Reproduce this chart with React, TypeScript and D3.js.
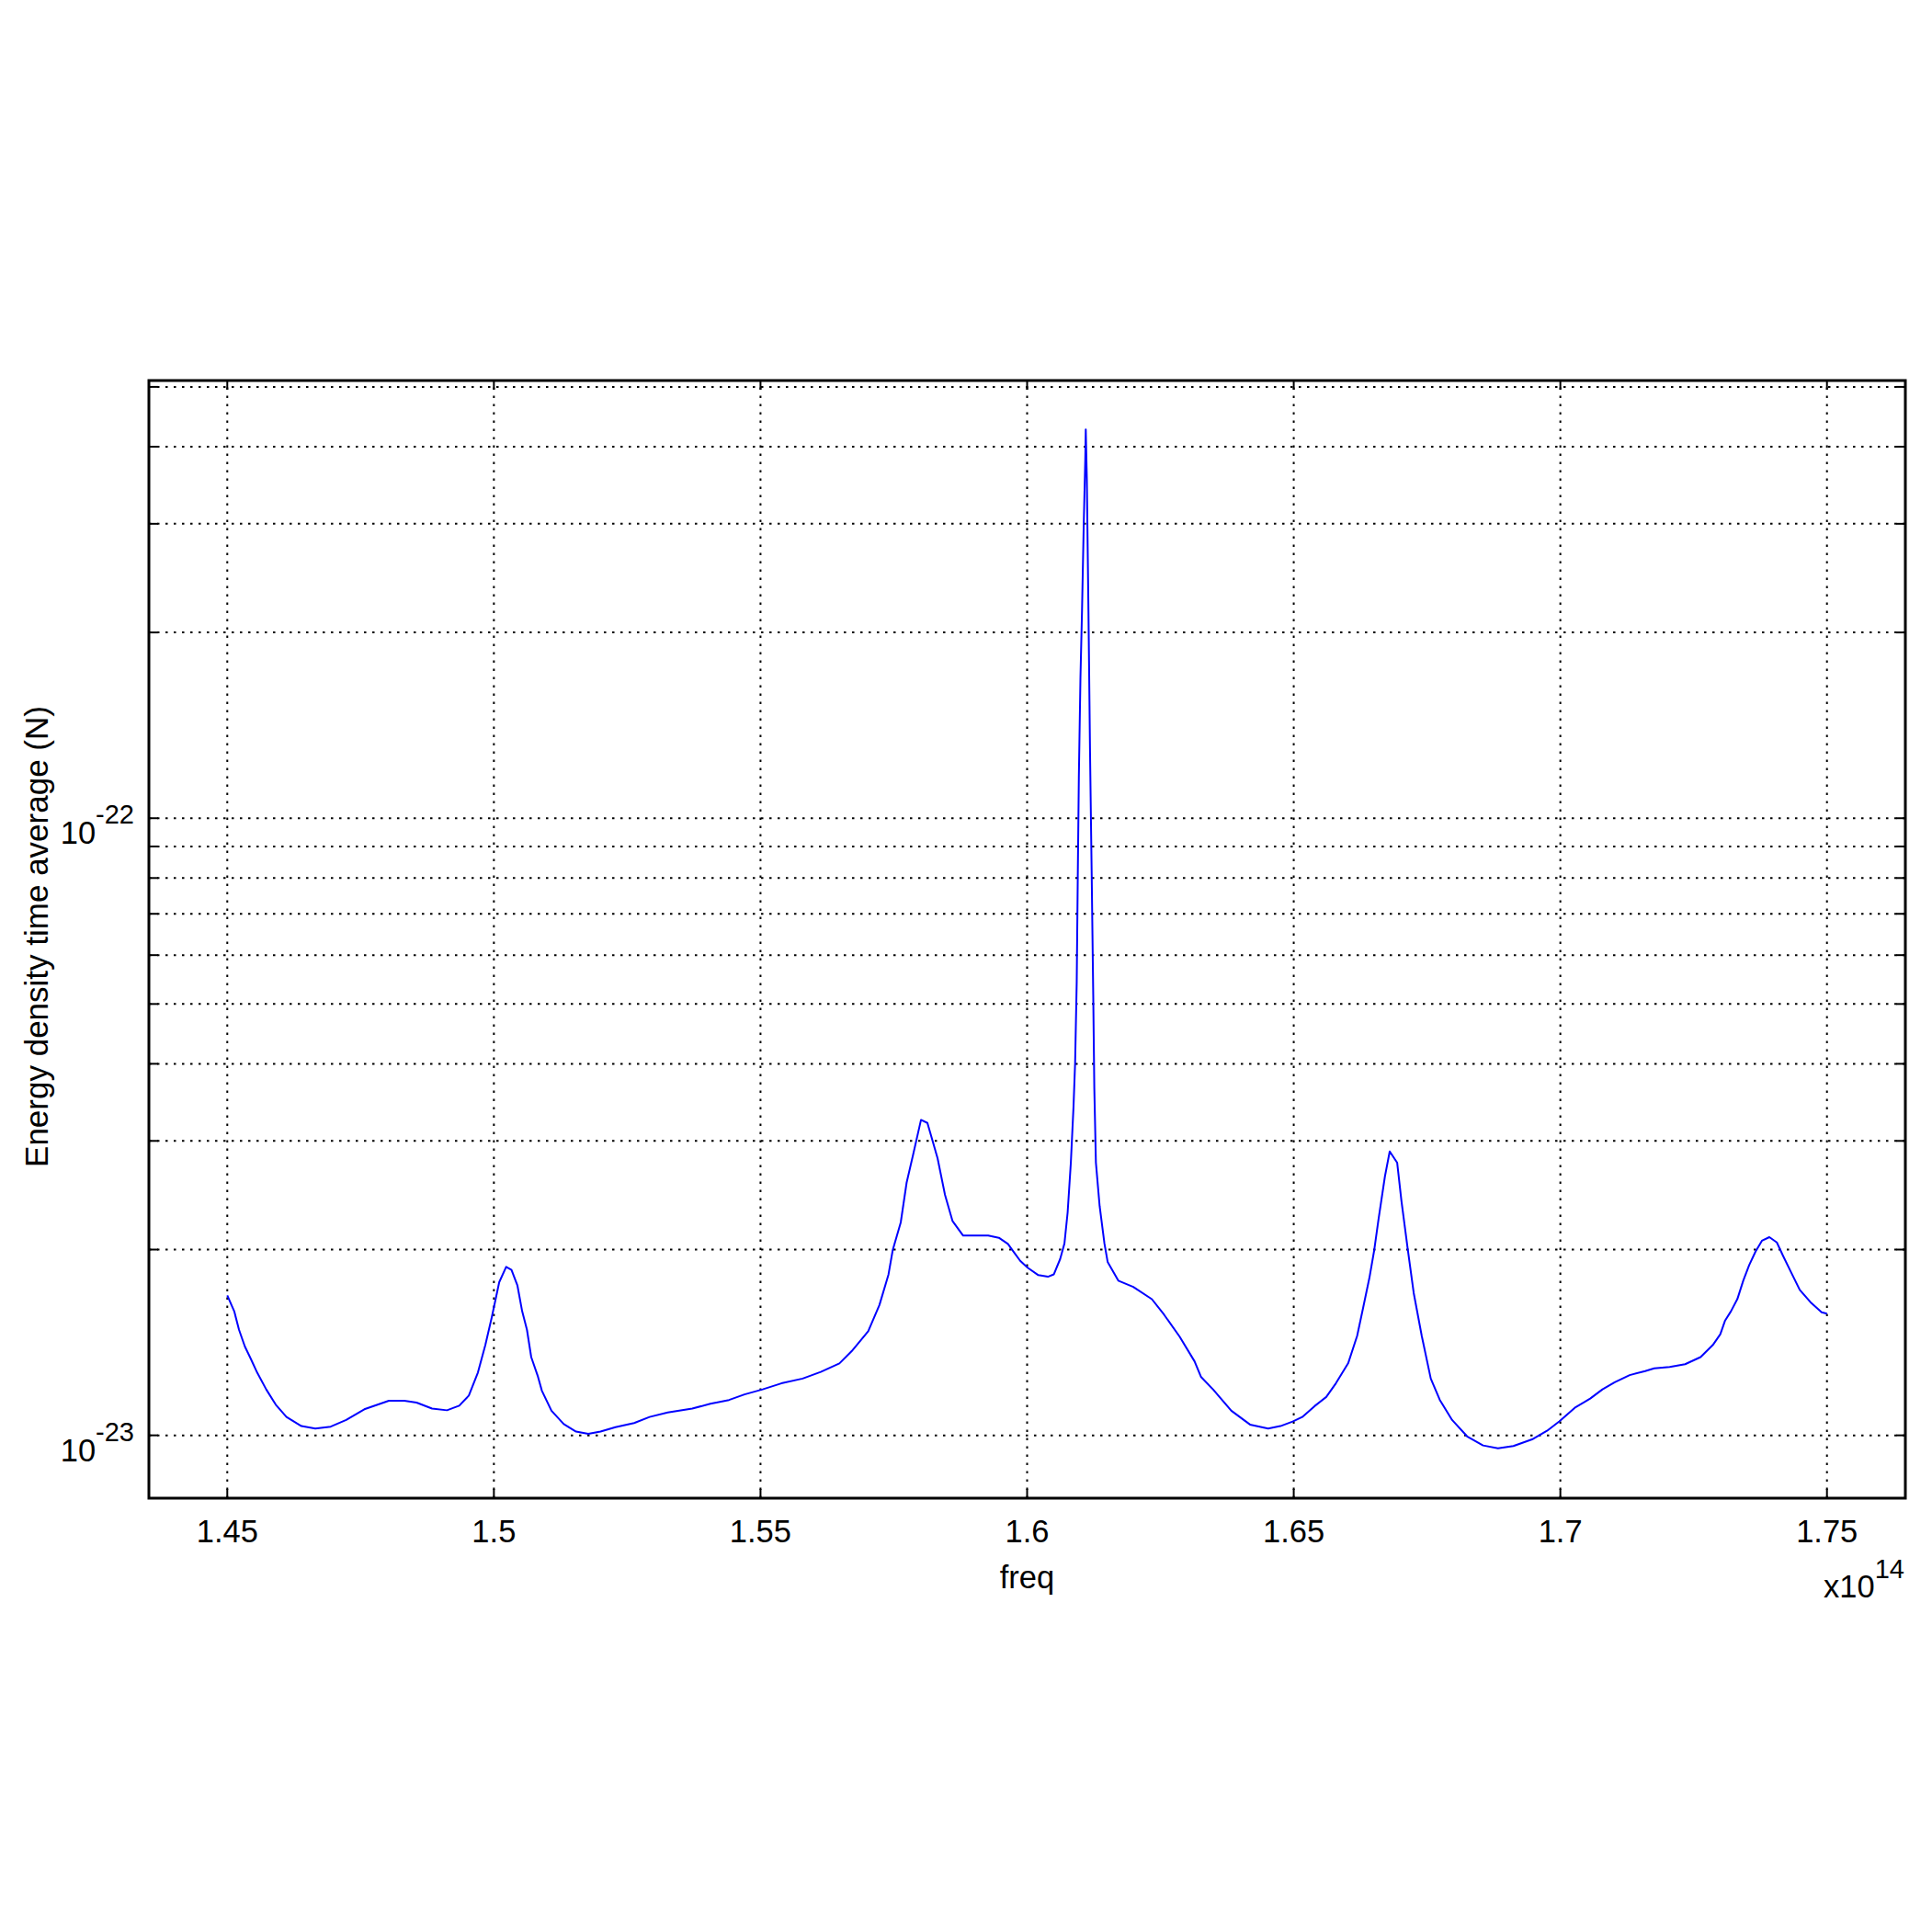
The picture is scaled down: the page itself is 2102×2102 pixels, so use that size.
import React from "react";
import * as d3 from "d3";

// frequency in units of 1e14
const freq = [
  1.4500, 1.4513, 1.4522, 1.4533, 1.4544, 1.4556, 1.4573, 1.4591, 1.4611, 1.4639,
  1.4665, 1.4694, 1.4723, 1.4757, 1.4803, 1.4832, 1.4855, 1.4884, 1.4912, 1.4935,
  1.4953, 1.4970, 1.4984, 1.4996, 1.5010, 1.5023, 1.5033, 1.5044, 1.5053, 1.5062,
  1.5070, 1.5082, 1.5090, 1.5108, 1.5131, 1.5154, 1.5177, 1.5200, 1.5228, 1.5263,
  1.5292, 1.5326, 1.5372, 1.5406, 1.5441, 1.5470, 1.5504, 1.5539, 1.5579, 1.5613,
  1.5648, 1.5671, 1.5702, 1.5723, 1.5740, 1.5748, 1.5763, 1.5774, 1.5786, 1.5801,
  1.5813, 1.5832, 1.5846, 1.5860, 1.5880, 1.5927, 1.5947, 1.5964, 1.5973, 1.5987,
  1.6001, 1.6021, 1.6039, 1.6050, 1.6062, 1.6070, 1.6076, 1.6082, 1.6087, 1.6090,
  1.6093, 1.6095, 1.6097, 1.6100, 1.6103, 1.6106, 1.6109, 1.6110, 1.6112, 1.6115,
  1.6118, 1.6121, 1.6124, 1.6126, 1.6129, 1.6136, 1.6145, 1.6151, 1.6171, 1.6199,
  1.6234, 1.6257, 1.6286, 1.6314, 1.6326, 1.6349, 1.6383, 1.6418, 1.6452, 1.6475,
  1.6498, 1.6516, 1.6539, 1.6561, 1.6579, 1.6602, 1.6619, 1.6630, 1.6642, 1.6651,
  1.6659, 1.6671, 1.6680, 1.6694, 1.6702, 1.6714, 1.6725, 1.6740, 1.6757, 1.6774,
  1.6797, 1.6826, 1.6855, 1.6883, 1.6912, 1.6947, 1.6975, 1.6998, 1.7027, 1.7056,
  1.7079, 1.7102, 1.7130, 1.7159, 1.7176, 1.7205, 1.7234, 1.7263, 1.7286, 1.7300,
  1.7309, 1.7320, 1.7332, 1.7343, 1.7354, 1.7366, 1.7378, 1.7392, 1.7406, 1.7418,
  1.7432, 1.7449, 1.7469, 1.7490, 1.7500,
];

// energy density time average, in units of 1e-23
const energy = [
  1.686, 1.589, 1.483, 1.393, 1.331, 1.264, 1.187, 1.121, 1.071, 1.035,
  1.026, 1.033, 1.059, 1.102, 1.138, 1.138, 1.130, 1.105, 1.098, 1.117,
  1.160, 1.264, 1.401, 1.553, 1.771, 1.875, 1.854, 1.751, 1.589, 1.483,
  1.339, 1.250, 1.181, 1.096, 1.043, 1.014, 1.006, 1.014, 1.031, 1.047,
  1.071, 1.089, 1.105, 1.125, 1.141, 1.165, 1.187, 1.214, 1.236, 1.267,
  1.308, 1.369, 1.475, 1.626, 1.822, 1.997, 2.213, 2.567, 2.845, 3.245,
  3.208, 2.813, 2.453, 2.226, 2.107, 2.107, 2.090, 2.043, 1.992, 1.918,
  1.869, 1.818, 1.807, 1.823, 1.931, 2.046, 2.298, 2.766, 3.408, 4.009,
  5.418, 8.035, 11.64, 16.87, 21.77, 29.42, 37.96, 42.64, 35.42, 21.77,
  12.77, 8.222, 5.173, 3.652, 2.766, 2.352, 2.046, 1.910, 1.781, 1.740,
  1.662, 1.568, 1.445, 1.318, 1.244, 1.186, 1.096, 1.041, 1.026, 1.035,
  1.053, 1.071, 1.115, 1.154, 1.214, 1.308, 1.450, 1.607, 1.801, 1.997,
  2.238, 2.627, 2.884, 2.765, 2.397, 1.997, 1.701, 1.450, 1.236, 1.141,
  1.059, 0.9945, 0.963, 0.953, 0.961, 0.985, 1.017, 1.053, 1.108, 1.147,
  1.187, 1.219, 1.252, 1.271, 1.284, 1.291, 1.304, 1.339, 1.401, 1.458,
  1.535, 1.589, 1.663, 1.781, 1.886, 1.985, 2.067, 2.095, 2.054, 1.951,
  1.843, 1.721, 1.644, 1.583, 1.575,
];
const ENERGY_UNIT = 1e-23;

const xTicks = [1.45, 1.5, 1.55, 1.6, 1.65, 1.7, 1.75];
const xTickLabels = ["1.45", "1.5", "1.55", "1.6", "1.65", "1.7", "1.75"];
const yGridValues = [
  1e-23, 2e-23, 3e-23, 4e-23, 5e-23, 6e-23, 7e-23, 8e-23, 9e-23,
  1e-22, 2e-22, 3e-22, 4e-22, 5e-22,
];
const yMajorTicks = [1e-23, 1e-22];
const yMajorExponents = ["-23", "-22"];

const xDomain = [1.4353, 1.7647];
const yDomain = [7.91e-24, 5.12e-22];

export default function App() {
  const W = 2102;
  const H = 2102;
  const left = 162;
  const right = 2073;
  const top = 414;
  const bottom = 1630;
  const font = "'Liberation Sans', Arial, sans-serif";

  const x = d3.scaleLinear().domain(xDomain).range([left, right]);
  const y = d3.scaleLog().domain(yDomain).range([bottom, top]);

  const pts: [number, number][] = freq.map((f, i) => [f, energy[i] * ENERGY_UNIT]);
  const line = d3
    .line<[number, number]>()
    .x((d) => x(d[0]))
    .y((d) => y(d[1]));

  const dash = "2.5 6.5";
  const tickLen = 10;

  return (
    <svg
      width={W}
      height={H}
      viewBox={`0 0 ${W} ${H}`}
      style={{ position: "absolute", left: 0, top: 0, background: "#fff" }}
      fontFamily={font}
    >
      <rect x={0} y={0} width={W} height={H} fill="#fff" />
      {/* grid */}
      {xTicks.map((t, i) => (
        <line
          key={"gx" + i}
          x1={x(t)}
          x2={x(t)}
          y1={bottom}
          y2={top}
          stroke="#000"
          strokeWidth={2}
          strokeDasharray={dash}
        />
      ))}
      {yGridValues.map((t, i) => (
        <line
          key={"gy" + i}
          x1={left}
          x2={right}
          y1={y(t)}
          y2={y(t)}
          stroke="#000"
          strokeWidth={2}
          strokeDasharray={dash}
        />
      ))}
      {/* ticks */}
      {xTicks.map((t, i) => (
        <g key={"tx" + i}>
          <line x1={x(t)} x2={x(t)} y1={bottom} y2={bottom - tickLen} stroke="#000" strokeWidth={2} />
          <line x1={x(t)} x2={x(t)} y1={top} y2={top + tickLen} stroke="#000" strokeWidth={2} />
        </g>
      ))}
      {yGridValues.map((t, i) => (
        <g key={"ty" + i}>
          <line x1={left} x2={left + tickLen} y1={y(t)} y2={y(t)} stroke="#000" strokeWidth={2} />
          <line x1={right} x2={right - tickLen} y1={y(t)} y2={y(t)} stroke="#000" strokeWidth={2} />
        </g>
      ))}
      {/* data */}
      <path d={line(pts) || ""} fill="none" stroke="#0000ff" strokeWidth={2} strokeLinejoin="round" />
      {/* axes box */}
      <rect
        x={left}
        y={top}
        width={right - left}
        height={bottom - top}
        fill="none"
        stroke="#000"
        strokeWidth={3}
      />
      {/* x tick labels */}
      {xTicks.map((t, i) => (
        <text key={"lx" + i} x={x(t)} y={1678} fontSize={34.5} textAnchor="middle" fill="#000">
          {xTickLabels[i]}
        </text>
      ))}
      {/* y tick labels */}
      {yMajorTicks.map((t, i) => (
        <text key={"ly" + i} x={146} y={y(t) + 28} textAnchor="end" fill="#000" fontSize={34.5}>
          <tspan>10</tspan>
          <tspan dy={-22} fontSize={29}>
            {yMajorExponents[i]}
          </tspan>
        </text>
      ))}
      {/* x axis label */}
      <text x={(left + right) / 2} y={1728} textAnchor="middle" fontSize={34.5} fill="#000">
        freq
      </text>
      {/* exponent */}
      <text x={2072} y={1738} textAnchor="end" fontSize={34.5} fill="#000">
        <tspan>x10</tspan>
        <tspan dy={-21.5} fontSize={29}>
          14
        </tspan>
      </text>
      {/* y axis label */}
      <text
        transform={`translate(52, ${(top + bottom) / 2 - 3}) rotate(-90)`}
        textAnchor="middle"
        fontSize={35}
        fill="#000"
      >
        Energy density time average (N)
      </text>
    </svg>
  );
}
